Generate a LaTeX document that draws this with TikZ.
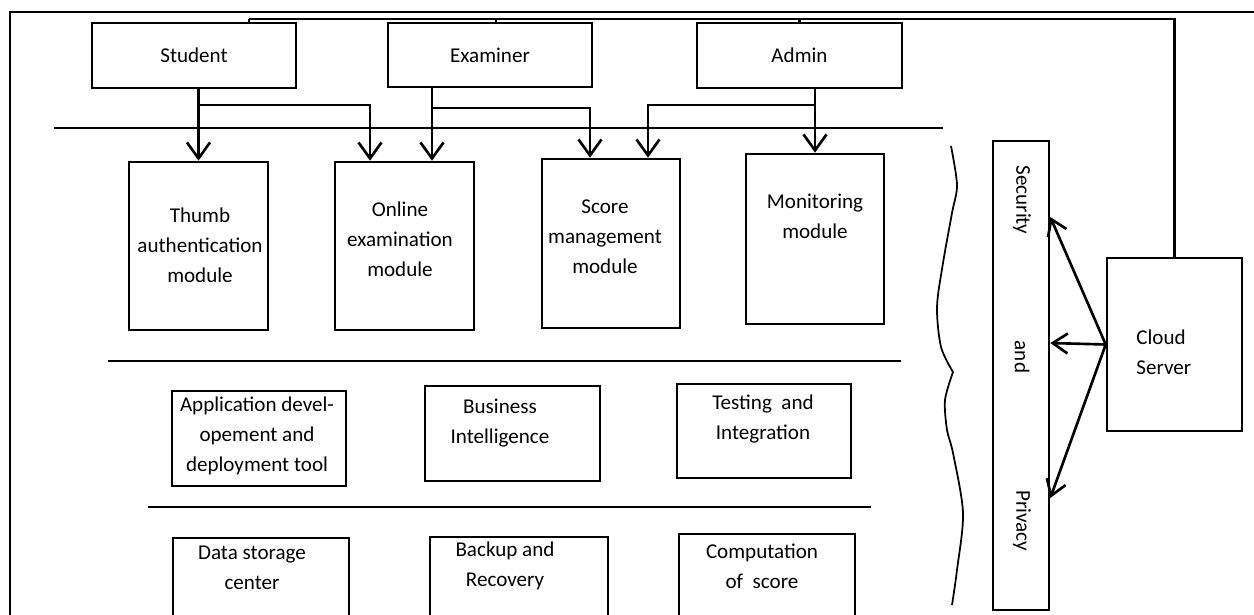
\documentclass[tikz,border=0pt]{standalone}
\usepackage{fontspec}
\setmainfont{Carlito}
\usetikzlibrary{arrows.meta}

\tikzstyle{line} = [draw, line width=1.5pt]
\tikzstyle{block} = [draw, rectangle, line width=1.5pt, inner sep=0pt, font=\fontsize{12}{17}\selectfont]
\tikzstyle{txt} = [align=center, inner sep=0pt, font=\fontsize{12}{17}\selectfont]
\tikzstyle{arrow} = [draw, line width=1.5pt, -{Straight Barb[length=3.2mm,width=4.6mm]}]
\tikzstyle{sarrow} = [draw, line width=1.5pt, -{Straight Barb[length=3mm,width=4mm]}]

\begin{document}
\begin{tikzpicture}[x=0.02cm,y=-0.02cm]
\useasboundingbox (0,0) rectangle (1254,615);
\clip (0,0) rectangle (1254,615);

%users
\node[block, minimum width=4.08cm, minimum height=1.3cm] (student) at (194,55.5) {Student};
\node[block, minimum width=4.08cm, minimum height=1.28cm] (examiner) at (490,55) {Examiner};
\node[block, minimum width=4.1cm, minimum height=1.3cm] (admin) at (799.5,55.5) {Admin};

%modules
\node[block, minimum width=2.78cm, minimum height=3.36cm] (thumb) at (198.5,246) {};
\node[block, minimum width=2.78cm, minimum height=3.36cm] (online) at (404.5,246) {};
\node[block, minimum width=2.76cm, minimum height=3.38cm] (score) at (611,243.5) {};
\node[block, minimum width=2.76cm, minimum height=3.4cm] (monitor) at (815,239) {};
\node[txt] (thumbtxt) at (200,245) {Thumb\\authentication\\module};
\node[txt] (onlinetxt) at (400,239) {Online\\examination\\module};
\node[txt] (scoretxt) at (605,237) {Score\\management\\module};
\node[txt] (monitortxt) at (815,216) {Monitoring\\module};

%tools
\node[block, minimum width=3.48cm, minimum height=1.9cm] (appdev) at (259,438.5) {};
\node[block, minimum width=3.5cm, minimum height=1.9cm] (business) at (512.5,433.5) {};
\node[block, minimum width=3.48cm, minimum height=1.88cm] (testing) at (764,431) {};
\node[txt] (appdevtxt) at (257,436) {Application devel-\\opement and\\deployment tool};
\node[txt] (businesstxt) at (500,423) {Business\\Intelligence};
\node[txt] (testingtxt) at (763,419) {Testing\ \ and\\Integration};

%storage
\node[block, minimum width=3.52cm, minimum height=2.4cm] (datastore) at (261,598) {};
\node[block, minimum width=3.56cm, minimum height=2.4cm] (backup) at (519,597) {};
\node[block, minimum width=3.52cm, minimum height=2.4cm] (compute) at (767,594) {};
\node[txt] (datastoretxt) at (252,568) {Data storage\\center};
\node[txt] (backuptxt) at (505,566) {Backup and\\Recovery};
\node[txt] (computetxt) at (762,566) {Computation\\of\ \ score};

%security and cloud
\node[block, minimum width=1.12cm, minimum height=9.38cm] (security) at (1021,375.5) {};
\node[txt, rotate=-90] (sectxt) at (1022,200) {Security};
\node[txt, rotate=-90] (andtxt) at (1022,357) {and};
\node[txt, rotate=-90] (privtxt) at (1022,521) {Privacy};
\node[block, minimum width=2.7cm, minimum height=3.46cm] (cloud) at (1174.5,344.5) {};
\node[txt, align=left, anchor=west] (cloudtxt) at (1136,352) {Cloud\\Server};

%frame
\coordinate (cornertl) at (10,12);
\coordinate (bus) at (249,19);
\coordinate (extap) at (496,19);
\draw[line] (10,615) -- (cornertl) -- (1260,12);
\draw[line, line width=1.2pt] (cloud.north) |- (bus);
\draw[line, line width=1.2pt] (bus) -- (bus |- student.north);
\draw[line, line width=1.2pt] (extap) -- (extap |- examiner.north);
\draw[line, line width=1.2pt] (admin.north) -- +(0,-4);

%layers
\draw[line] (54,128) -- (943,128);
\draw[line] (108,361) -- (901,361);
\draw[line] (148,507) -- (871,507);

%arrows
\coordinate (branchA) at (0,105);
\coordinate (branchB) at (0,108);
\coordinate (exon) at ([xshift=0.55cm]online.north);
\draw[arrow] (thumb.north |- student.south) -- (thumb.north);
\draw[arrow] (thumb.north |- branchA) -| ([xshift=-0.69cm]online.north);
\draw[arrow] (exon |- examiner.south) -- (exon);
\draw[arrow] (exon |- branchB) -| ([xshift=-0.42cm]score.north);
\draw[arrow] (monitor.north |- admin.south) -- (monitor.north);
\draw[arrow] (monitor.north |- branchA) -| ([xshift=0.74cm]score.north);

\draw[sarrow] (cloud.west) -- ([yshift=3.17cm]security.east);
\draw[sarrow] (cloud.west) -- ([yshift=0.65cm]security.east);
\draw[sarrow] (cloud.west) -- ([yshift=-2.45cm]security.east);

%brace
\draw[line width=1pt] plot[smooth] coordinates {(951,146) (957,185) (952,213) (943,263) (937,307) (941,347) (953,372)};
\draw[line width=1pt] plot[smooth] coordinates {(953,372) (945,400) (947,430) (953,453) (963,513) (957,570) (952,605)};
\end{tikzpicture}
\end{document}
